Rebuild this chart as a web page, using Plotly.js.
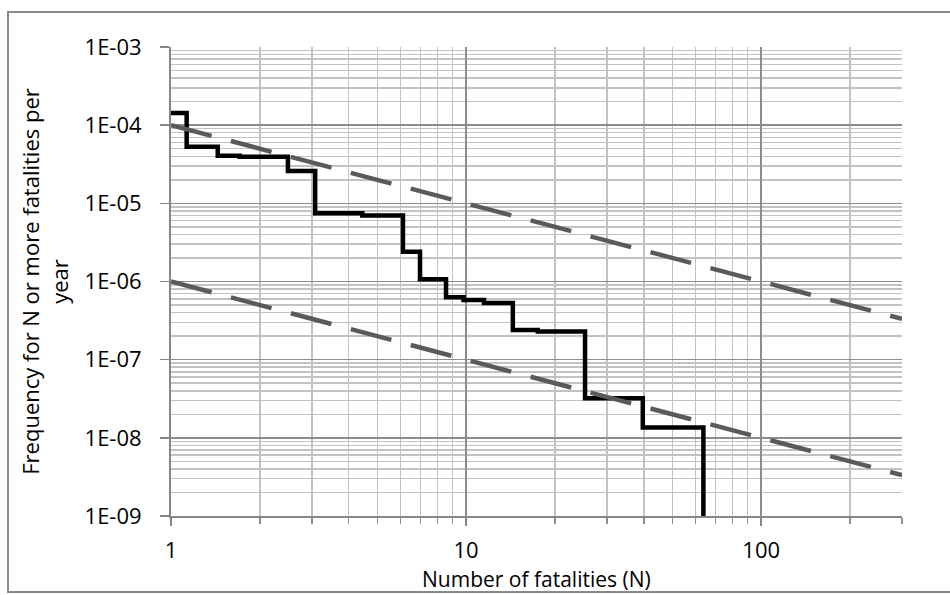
<!DOCTYPE html>
<html>
<head>
<meta charset="utf-8">
<script src="https://cdn.plot.ly/plotly-3.0.1.min.js"></script>
<style>
  html, body { margin: 0; padding: 0; background: #fff; }
  #wrap { position: relative; width: 950px; height: 595px; overflow: hidden; }
  #frame { position: absolute; left: 7px; top: 11px; width: 1000px; height: 582px; border: 2px solid #8a8a8a; box-sizing: border-box; }
  #chart { position: absolute; left: 0; top: 0; width: 950px; height: 595px; }
</style>
</head>
<body>
<div id="wrap">
  <div id="frame"></div>
  <div id="chart"></div>
</div>
<script>
// F-N curve (step)
const fatalities = [1, 1.13, 1.44, 1.71, 2.49, 3.08, 4.45, 6.11, 6.98, 8.55, 9.8, 11.5, 14.4, 17.5, 25.3, 39.7, 63.7];
const frequency  = [1.43e-4, 5.3e-5, 4.07e-5, 3.95e-5, 2.6e-5, 7.44e-6, 7.0e-6, 2.4e-6, 1.07e-6, 6.3e-7, 5.8e-7, 5.3e-7, 2.4e-7, 2.3e-7, 3.2e-8, 1.36e-8, 1e-9];

// Criterion lines (dashed)
const criterionN     = [1, 300];
const upperCriterion = [1e-4, 3.33e-7];
const lowerCriterion = [1e-6, 3.33e-9];

// Axis ticks
const yTickVals = [1e-9, 1e-8, 1e-7, 1e-6, 1e-5, 1e-4, 1e-3];
const yTickText = ['1E-09', '1E-08', '1E-07', '1E-06', '1E-05', '1E-04', '1E-03'];
const xTickVals = [1, 10, 100];
const xTickText = ['1', '10', '100'];
const xTitle = 'Number of fatalities (N)';
const yTitle = 'Frequency for N or more fatalities per<br>year';

const FONT = 'Open Sans, Noto Sans, sans-serif';

const traces = [
  {
    x: fatalities, y: frequency, type: 'scatter', mode: 'lines',
    line: { shape: 'hv', color: '#000000', width: 4.5 },
    hoverinfo: 'skip', showlegend: false
  },
  {
    x: criterionN, y: upperCriterion, type: 'scatter', mode: 'lines',
    line: { color: '#5a5a5a', width: 4.5, dash: '42px,20px' },
    hoverinfo: 'skip', showlegend: false
  },
  {
    x: criterionN, y: lowerCriterion, type: 'scatter', mode: 'lines',
    line: { color: '#5a5a5a', width: 4.5, dash: '42px,20px' },
    hoverinfo: 'skip', showlegend: false
  }
];

const layout = {
  width: 950, height: 595,
  margin: { l: 171, r: 48, t: 47, b: 79 },
  paper_bgcolor: 'rgba(0,0,0,0)',
  plot_bgcolor: '#ffffff',
  font: { family: FONT, size: 22, color: '#000' },
  showlegend: false,
  xaxis: {
    type: 'log',
    range: [0, Math.log10(300)],
    tickvals: xTickVals, ticktext: xTickText,
    ticks: 'outside', ticklen: 8, tickwidth: 1.5, tickcolor: '#868686',
    ticklabelstandoff: 6,
    showgrid: true, gridcolor: '#8c8c8c', gridwidth: 1.5,
    minor: { dtick: 'D1', showgrid: true, gridcolor: '#c2c2c2', gridwidth: 1.5, ticks: 'outside', ticklen: 6, tickcolor: '#8c8c8c' },
    showline: true, linecolor: '#868686', linewidth: 2,
    zeroline: false, automargin: false,
    tickfont: { family: FONT, size: 22, color: '#000' }
  },
  yaxis: {
    type: 'log',
    range: [-9, -3],
    tickvals: yTickVals, ticktext: yTickText,
    ticks: 'outside', ticklen: 9, tickwidth: 1.5, tickcolor: '#868686',
    ticklabelstandoff: 14,
    showgrid: true, gridcolor: '#8c8c8c', gridwidth: 1.5,
    minor: { dtick: 'D1', showgrid: true, gridcolor: '#c2c2c2', gridwidth: 1.5 },
    showline: true, linecolor: '#868686', linewidth: 2,
    zeroline: false, automargin: false,
    tickfont: { family: FONT, size: 22, color: '#000' },
    title: { text: yTitle, font: { family: FONT, size: 22, color: '#000' }, standoff: 10 }
  },
  annotations: [
    {
      text: xTitle, xref: 'paper', yref: 'paper', x: 0.5, y: -0.1343,
      xanchor: 'center', yanchor: 'middle', showarrow: false,
      font: { family: FONT, size: 21, color: '#000' }
    }
  ]
};

Plotly.newPlot('chart', traces, layout, { staticPlot: true, displayModeBar: false });
</script>
</body>
</html>
